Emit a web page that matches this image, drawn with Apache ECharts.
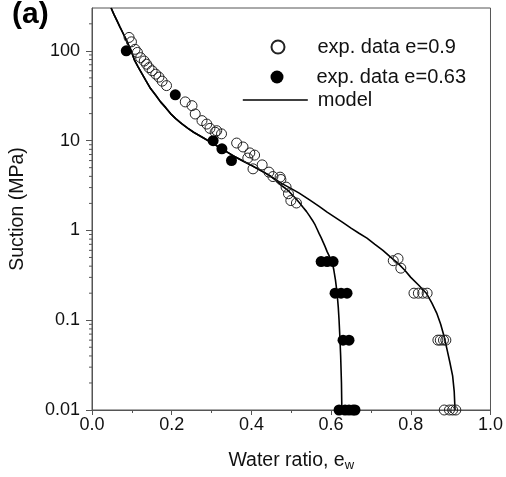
<!DOCTYPE html>
<html><head><meta charset="utf-8">
<script src="https://cdn.jsdelivr.net/npm/echarts@6/dist/echarts.min.js"></script>
<style>html,body{margin:0;padding:0;background:#fff}#c{width:506px;height:477px}</style>
</head><body><div id="c"></div>
<script>
// experimental data, e = 0.9 (open circles)
const exp09X = [0.093,0.099,0.108,0.114,0.122,0.131,0.137,0.143,0.151,0.160,0.168,0.176,0.187,0.234,0.251,0.259,0.276,0.288,0.296,0.313,0.325,0.309,0.363,0.379,0.396,0.408,0.391,0.404,0.427,0.444,0.454,0.472,0.474,0.487,0.493,0.499,0.513,0.756,0.768,0.775,0.808,0.819,0.830,0.841,0.868,0.874,0.882,0.888,0.884,0.897,0.905,0.913];
const exp09Y = [141,126,104,96,84,77,71,65,60,55,51,46,41,27,24.5,19.8,16.7,15.3,13.7,12.9,11.9,12.4,9.4,8.5,7.3,6.9,6.4,4.85,5.37,4.46,3.98,3.92,3.69,3.04,2.56,2.15,2.02,0.46,0.485,0.38,0.2,0.2,0.2,0.2,0.06,0.06,0.06,0.06,0.01,0.01,0.01,0.01];
// experimental data, e = 0.63 (filled circles)
const exp063X = [0.086,0.209,0.304,0.326,0.350,0.575,0.59,0.605,0.61,0.625,0.64,0.63,0.645,0.62,0.635,0.645,0.655,0.66];
const exp063Y = [100,32.4,10,8.1,6.0,0.45,0.45,0.45,0.2,0.2,0.2,0.06,0.06,0.01,0.01,0.01,0.01,0.01];
// model curve, e = 0.9
const model09X = [0.048,0.055,0.062,0.07,0.077,0.085,0.092,0.1,0.106,0.116,0.126,0.136,0.147,0.16,0.172,0.185,0.197,0.21,0.225,0.24,0.255,0.28,0.305,0.33,0.354,0.38,0.40,0.425,0.445,0.46,0.478,0.50,0.52,0.545,0.57,0.59,0.61,0.63,0.65,0.67,0.69,0.71,0.73,0.75,0.768,0.785,0.80,0.82,0.839,0.853,0.865,0.875,0.884,0.892,0.898,0.905,0.909,0.911];
const model09Y = [300,255,220,185,160,135,115,95,80,66,55,46,38,32,27,23.3,20,17.6,15.5,13.8,12.4,10.7,9.2,7.9,6.8,5.9,5.3,4.6,4.1,3.7,3.3,2.92,2.6,2.2,1.85,1.6,1.4,1.22,1.06,0.93,0.82,0.7,0.6,0.5,0.43,0.36,0.3,0.245,0.2,0.155,0.12,0.09,0.065,0.045,0.034,0.024,0.016,0.01];
// model curve, e = 0.63 (coincides with e = 0.9 curve above ~4 MPa)
const model063X = [0.048,0.055,0.062,0.07,0.077,0.085,0.092,0.1,0.106,0.116,0.126,0.136,0.147,0.16,0.172,0.185,0.197,0.21,0.225,0.24,0.255,0.28,0.305,0.33,0.354,0.38,0.40,0.425,0.445,0.46,0.474,0.485,0.495,0.504,0.512,0.521,0.53,0.538,0.545,0.553,0.56,0.565,0.57,0.575,0.58,0.585,0.59,0.597,0.603,0.607,0.611,0.615,0.618,0.62,0.622,0.624,0.626,0.627];
const model063Y = [300,255,220,185,160,135,115,95,80,66,55,46,38,32,27,23.3,20,17.6,15.5,13.8,12.4,10.7,9.2,7.9,6.8,5.9,5.3,4.6,4.1,3.65,3.2,2.95,2.7,2.45,2.25,2.02,1.8,1.63,1.47,1.3,1.15,1.03,0.92,0.83,0.74,0.66,0.58,0.5,0.44,0.36,0.28,0.2,0.14,0.1,0.065,0.04,0.02,0.01];
// axis ticks
const yTickLabels = {'-2':'0.01','-1':'0.1','0':'1','1':'10','2':'100'};
const yMinorTicks = [0.02,0.03,0.04,0.05,0.06,0.07,0.08,0.09,0.2,0.3,0.4,0.5,0.6,0.7,0.8,0.9,2,3,4,5,6,7,8,9,20,30,40,50,60,70,80,90,200];

const zip = (a,b) => a.map((v,i)=>[v,b[i]]);
const FONT = 'Liberation Sans, Arial, sans-serif';
const AX = '#555';
const TXT = '#111';
const chart = echarts.init(document.getElementById('c'), null, {renderer:'canvas'});
const legendBase = {orient:'vertical', itemGap:0, padding:0, itemHeight:13, selectedMode:false,
  textStyle:{fontFamily:FONT, fontSize:20, color:TXT}};
chart.setOption({
  animation:false,
  grid:{left:91, right:13, top:8, bottom:65, show:true, borderColor:AX, borderWidth:1},
  legend:[
    Object.assign({}, legendBase, {data:['exp. data e=0.9'], left:270.5, top:37, itemWidth:13,
      textStyle:Object.assign({}, legendBase.textStyle, {padding:[0,0,0,28]})}),
    Object.assign({}, legendBase, {data:['exp. data e=0.63'], left:270.5, top:67, itemWidth:13,
      textStyle:Object.assign({}, legendBase.textStyle, {padding:[0,0,0,28]})}),
    Object.assign({}, legendBase, {data:['model'], left:242, top:90, itemWidth:65,
      itemStyle:{opacity:0}, lineStyle:{color:'#000', width:1.6, opacity:1},
      textStyle:Object.assign({}, legendBase.textStyle, {padding:[0,0,0,5]})})
  ],
  graphic:[{type:'text', left:12, top:0, style:{text:'(a)', font:'bold 30px '+FONT, fill:'#000'}}],
  xAxis:{type:'value', min:0, max:1, interval:0.2,
    axisLine:{lineStyle:{color:AX}}, axisTick:{inside:false, length:5, lineStyle:{color:AX}},
    minorTick:{show:true, splitNumber:2, length:3, lineStyle:{color:AX}},
    splitLine:{show:false},
    axisLabel:{fontFamily:FONT, fontSize:18, color:TXT, margin:6, formatter:v=>v.toFixed(1)},
    name:'Water ratio, e{s|w}', nameLocation:'middle', nameGap:40,
    nameTextStyle:{fontFamily:FONT, fontSize:19.5, color:TXT, rich:{s:{fontFamily:FONT, fontSize:13, color:TXT, verticalAlign:'bottom', padding:[9,0,0,0]}}}
  },
  yAxis:{type:'log', logBase:10, min:0.01, max:300,
    axisLine:{show:true, lineStyle:{color:AX}}, axisTick:{show:true, inside:false, length:6, lineStyle:{color:AX}},
    splitLine:{show:false}, minorTick:{show:false},
    axisLabel:{fontFamily:FONT, fontSize:18, color:TXT, margin:12, showMaxLabel:false,
      formatter:v=>{const l=Math.log10(v), k=Math.round(l); return (Math.abs(l-k)<1e-6 && yTickLabels[String(k)]!==undefined) ? yTickLabels[String(k)] : '';}},
    name:'Suction (MPa)', nameLocation:'middle', nameGap:64, nameRotate:90,
    nameTextStyle:{fontFamily:FONT, fontSize:19.5, color:TXT}
  },
  series:[
    {name:'model', type:'line', data:zip(model09X,model09Y), symbol:'none', showSymbol:false, smooth:false, lineStyle:{color:'#000', width:1.6}, itemStyle:{color:'#000'}, z:2},
    {name:'model', type:'line', data:zip(model063X,model063Y), symbol:'none', showSymbol:false, smooth:false, lineStyle:{color:'#000', width:1.6}, itemStyle:{color:'#000'}, z:2},
    {name:'exp. data e=0.9', type:'scatter', data:zip(exp09X,exp09Y), symbol:'circle', symbolSize:10,
      itemStyle:{color:'rgba(255,255,255,0)', borderColor:'#222', borderWidth:1, opacity:1}, z:3},
    {name:'exp. data e=0.63', type:'scatter', data:zip(exp063X,exp063Y), symbol:'circle', symbolSize:11,
      itemStyle:{color:'#000', borderWidth:0, opacity:1}, z:3},
    {name:'minorTicks', type:'scatter', data:yMinorTicks.map(v=>[0,v]), symbol:'rect', symbolSize:[3,1], symbolOffset:[-1.5,0],
      itemStyle:{color:AX, opacity:1}, silent:true, clip:false, z:1}
  ]
});
</script></body></html>
